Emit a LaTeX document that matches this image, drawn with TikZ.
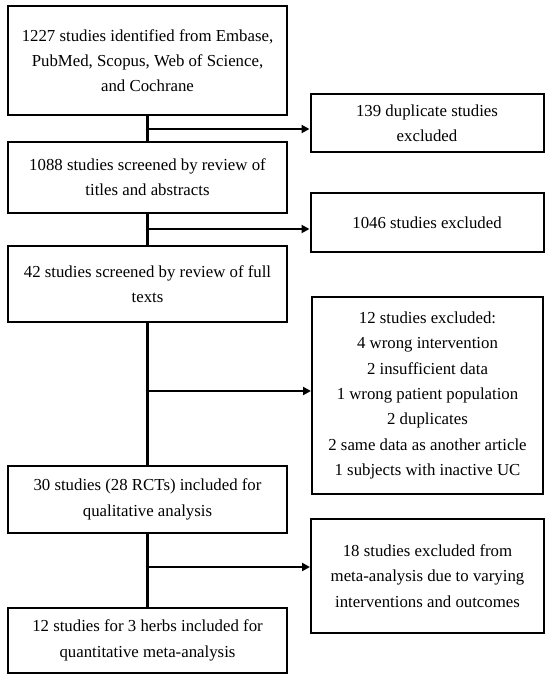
\documentclass[tikz,border=0pt]{standalone}
\usepackage{fontspec}
\setmainfont{Liberation Serif}
\usetikzlibrary{arrows.meta}

\begin{document}
\begin{tikzpicture}[x=1pt,y=-1pt,
  box/.style={draw,line width=2pt,align=center,inner sep=2pt,
    font=\fontsize{16.8}{25.3}\selectfont},
  trunk/.style={line width=2.2pt},
  excl/.style={line width=2.2pt,-{Triangle[length=8pt,width=8pt]}}]
\useasboundingbox (0,0) rectangle (550,681);

% main column
\node at (147.5,60.5) [box,minimum width=279pt,minimum height=109pt] (ident)
  {1227 studies identified from Embase,\\PubMed, Scopus, Web of Science,\\and Cochrane};
\node at (147.5,177.5) [box,minimum width=279pt,minimum height=71pt] (titles)
  {1088 studies screened by review of\\titles and abstracts};
\node at (147.5,284) [box,minimum width=279pt,minimum height=76pt] (fulltext)
  {42 studies screened by review of full\\texts};
\node at (147.5,499.5) [box,minimum width=279pt,minimum height=67pt] (quali)
  {30 studies (28 RCTs) included for\\qualitative analysis};
\node at (147.5,640.5) [box,minimum width=279pt,minimum height=65pt] (quanti)
  {12 studies for 3 herbs included for\\quantitative meta-analysis};

% excluded column
\node at (427,123) [box,minimum width=233pt,minimum height=58pt] (dup)
  {139 duplicate studies\\excluded};
\node at (427,222.5) [box,minimum width=233pt,minimum height=59pt] (absexcl)
  {1046 studies excluded};
\node at (427.5,395.5) [box,minimum width=231pt,minimum height=197pt] (fullexcl)
  {12 studies excluded:\\4 wrong intervention\\2 insufficient data\\1 wrong patient population\\2 duplicates\\2 same data as another article\\1 subjects with inactive UC};
\node at (427.5,576) [box,minimum width=233pt,minimum height=114pt] (metaexcl)
  {18 studies excluded from\\meta-analysis due to varying\\interventions and outcomes};

% trunk lines
\draw[trunk] (ident) -- (titles);
\draw[trunk] (titles) -- (fulltext);
\draw[trunk] (fulltext) -- (quali);
\draw[trunk] (quali) -- (quanti);

% arrows to the right
\coordinate (s1) at (147.5,129);
\coordinate (s2) at (147.5,229);
\coordinate (s3) at (147.5,391);
\coordinate (s4) at (147.5,567);
\draw[excl] (s1) -- (s1 -| dup.west);
\draw[excl] (s2) -- (s2 -| absexcl.west);
\draw[excl] (s3) -- (s3 -| fullexcl.west);
\draw[excl] (s4) -- (s4 -| metaexcl.west);
\end{tikzpicture}
\end{document}
